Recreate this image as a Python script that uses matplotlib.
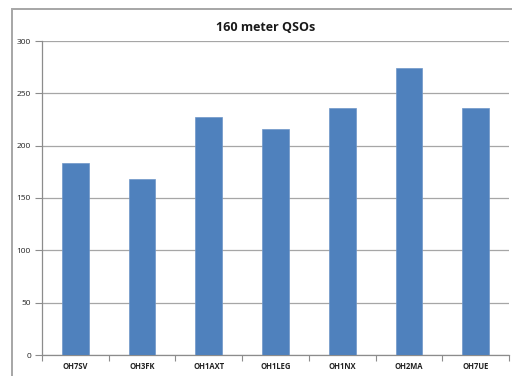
import matplotlib
matplotlib.use("Agg")
import matplotlib.pyplot as plt
from matplotlib.patches import Rectangle

operators = ["OH7SV", "OH3FK", "OH1AXT", "OH1LEG", "OH1NX", "OH2MA", "OH7UE"]
qsos = [183, 168, 227, 216, 236, 274, 236]
yticks = [0, 50, 100, 150, 200, 250, 300]

W, H = 512, 376
fig = plt.figure(figsize=(W / 100, H / 100), dpi=100)
fig.patch.set_facecolor("white")

# outer chart frame
fig.patches.append(Rectangle((12 / W, -0.05), 1.2, 1 - 9 / H + 0.05,
                             transform=fig.transFigure, fill=False,
                             edgecolor="#a6a6a6", linewidth=1.4))

ax = fig.add_axes([42 / W, 1 - 355 / H, (509 - 42) / W, (355 - 41) / H])
x = range(len(operators))
ax.bar(x, qsos, width=0.4, color="#4f81bd", edgecolor="#6f96c8",
       linewidth=0.5, zorder=3)

ax.set_xlim(-0.5, len(operators) - 0.5)
ax.set_ylim(0, 300)
ax.set_yticks(yticks)
ax.set_yticklabels([str(v) for v in yticks], fontsize=6, color="#222222",
                   family="Open Sans")
ax.set_xticks(list(x))
ax.set_xticklabels(operators, fontsize=5.5, fontweight="bold", color="#222222",
                   family="Open Sans")
ax.tick_params(axis="x", length=0, pad=5)
ax.tick_params(axis="y", length=5, width=0.8, color="#8c8c8c", pad=3)

# category boundary ticks on the x axis
ax.set_xticks([i - 0.5 for i in range(len(operators) + 1)], minor=True)
ax.tick_params(axis="x", which="minor", length=4, width=0.8, color="#8c8c8c")

ax.grid(axis="y", color="#a6a6a6", linewidth=0.9, zorder=0)
for s in ["top", "right"]:
    ax.spines[s].set_visible(False)
for s in ["left", "bottom"]:
    ax.spines[s].set_color("#8c8c8c")
    ax.spines[s].set_linewidth(0.9)

fig.text(266 / W, 1 - 27.5 / H, "160 meter QSOs", ha="center", va="center",
         fontsize=9, fontweight="bold", color="#1a1a1a", family="Open Sans")

fig.savefig("out.png", dpi=100)
